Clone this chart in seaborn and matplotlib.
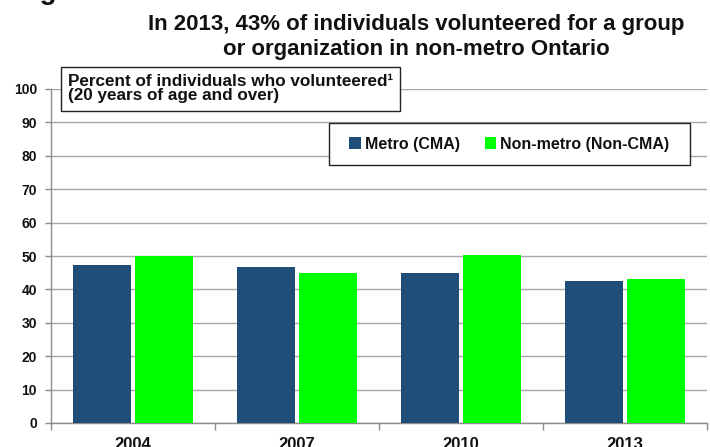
import matplotlib
matplotlib.use("Agg")
import matplotlib.pyplot as plt
import seaborn as sns
import pandas as pd
from matplotlib.patches import Rectangle
from matplotlib.ticker import FixedLocator, MultipleLocator

# Survey years and volunteer rates (%)
years = ["2004", "2007", "2010", "2013"]
metro = [47.4, 46.6, 44.9, 42.4]
non_metro = [50.1, 44.9, 50.2, 43.0]
series_names = ["Metro (CMA)", "Non-metro (Non-CMA)"]
colors = ["#1F4E79", "#00FF00"]

title_text = ("In 2013, 43% of individuals volunteered for a group\n"
              "or organization in non-metro Ontario")
box_text = "Percent of individuals who volunteered\u00b9\n(20 years of age and over)"

df = pd.DataFrame({
    "year": years * 2,
    "value": metro + non_metro,
    "series": [series_names[0]] * len(years) + [series_names[1]] * len(years),
})

sns.set_theme(style="white")
plt.rcParams["font.family"] = ["Liberation Sans", "DejaVu Sans"]
plt.rcParams["font.weight"] = "bold"

W, H = 710, 447
fig = plt.figure(figsize=(W / 100, H / 100), dpi=100)
ax = fig.add_axes([51 / W, (H - 423) / H, (707 - 51) / W, (423 - 89) / H])

sns.barplot(data=df, x="year", y="value", hue="series", order=years,
            hue_order=series_names, palette=colors, saturation=1,
            width=0.76, gap=0.06, edgecolor="none", linewidth=0,
            legend=True, ax=ax, zorder=3)

ax.set_ylim(0, 100)
ax.set_xlim(-0.5, len(years) - 0.5)
ax.yaxis.set_major_locator(MultipleLocator(10))
ax.grid(axis="y", color="#a6a6a6", linewidth=1.0, zorder=0)
ax.set_axisbelow(True)
ax.set_xlabel("")
ax.set_ylabel("")

for side in ("top", "right"):
    ax.spines[side].set_visible(False)
for side in ("left", "bottom"):
    ax.spines[side].set_color("#8c8c8c")
    ax.spines[side].set_linewidth(1.0)

ax.tick_params(axis="y", which="major", left=True, length=4, width=1,
               color="#8c8c8c", labelsize=10, pad=6)
ax.tick_params(axis="x", which="major", bottom=True, length=0,
               labelsize=12, pad=10)
ax.xaxis.set_minor_locator(FixedLocator([i - 0.5 for i in range(len(years) + 1)]))
ax.tick_params(axis="x", which="minor", bottom=True, length=5, width=1,
               color="#8c8c8c")
for lab in ax.get_xticklabels() + ax.get_yticklabels():
    lab.set_fontweight("bold")
    lab.set_color("#111111")

# Legend frame (wider side padding than the legend's own border allows)
ax.add_patch(Rectangle((329, H - 165), 690 - 329, 165 - 123,
                       transform=None, facecolor="white", edgecolor="#222222",
                       linewidth=1.0, zorder=5))
leg = ax.legend(loc="center", bbox_to_anchor=((509.5 - 51) / 656, (423 - 144) / 334),
                ncol=2, frameon=False, fontsize=11.5,
                handlelength=0.7, handleheight=0.7, handletextpad=0.25,
                columnspacing=1.6, borderpad=0.0, borderaxespad=0)
leg.set_zorder(6)
for t in leg.get_texts():
    t.set_fontweight("bold")
    t.set_color("#111111")

# Boxed axis description
fig.text(68 / W, 1 - 74 / H, box_text, ha="left", va="top", fontsize=12.3,
         fontweight="bold", color="#111111", linespacing=0.95,
         bbox=dict(boxstyle="square,pad=0.42", facecolor="white",
                   edgecolor="#222222", linewidth=1.0))

# Title
fig.text(416 / W, 1 - 14 / H, title_text, ha="center", va="top", fontsize=16,
         fontweight="bold", color="#111111", linespacing=1.25)

# Heading above the figure, clipped by the top edge
fig.text(15 / W, 1 + 1.3 / H, "Figure", ha="left", va="baseline", fontsize=20,
         fontweight="bold", color="#111111")

fig.savefig("out.png", dpi=100)
